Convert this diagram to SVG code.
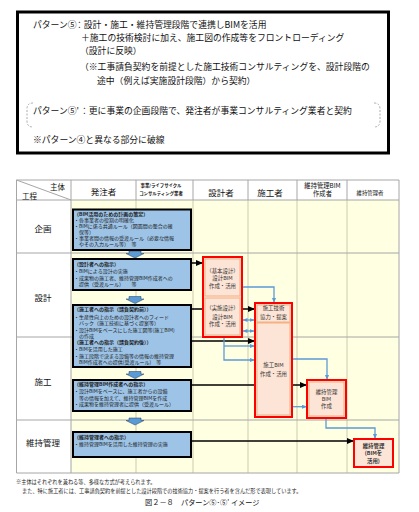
<svg xmlns="http://www.w3.org/2000/svg" width="419" height="512" viewBox="0 0 419 512">
<style>
text{font-family:"Noto Sans CJK JP","Noto Sans CJK SC",sans-serif;fill:#111}
.t9{font-size:8.8px}
.hd{font-size:8.5px;text-anchor:middle}
.bx{fill:#9DC3E6;stroke:#000;stroke-width:2}
.bt{font-size:5px;fill:#1b1b1b}
.bh{font-weight:bold}
.rd{fill:#FCE4D6;stroke:#FF0000;stroke-width:2}
.rin{fill:none;stroke:#F4B183;stroke-width:1}
.rt{font-size:5.4px;text-anchor:middle;fill:#333}
.blk{stroke:#000;stroke-width:1.5;fill:none;marker-end:url(#ab)}
.blu{stroke:#5B9BD5;stroke-width:1.3;fill:none;marker-end:url(#au)}
.dbl{stroke:#5B9BD5;stroke-width:1.3;fill:none;marker-end:url(#au);marker-start:url(#au)}
.chev{fill:#5B9BD5;stroke:#1F3864;stroke-width:0.5}
.grid{stroke:#A6A6A6;stroke-width:1}
.vg{stroke:#CFCBB0;stroke-width:1}
.nt{font-size:5.2px;fill:#222}
</style>
<defs>
<marker id="ab" markerUnits="userSpaceOnUse" markerWidth="7" markerHeight="6" refX="7" refY="3" orient="auto"><path d="M0,0 L7,3 L0,6 z" fill="#000"/></marker>
<marker id="au" markerUnits="userSpaceOnUse" markerWidth="5" markerHeight="4" refX="5" refY="2" orient="auto-start-reverse"><path d="M0,0 L5,2 L0,4 z" fill="#5B9BD5"/></marker>
</defs>
<rect width="419" height="512" fill="#fff"/>

<g id="summary">
<rect x="17.5" y="12" width="371" height="141" fill="#fff" stroke="#000" stroke-width="3"/>
<text class="t9" x="33" y="28.2">パターン⑤</text>
<text class="t9" x="75" y="28.2">：設計・施工・維持管理段階で連携しBIMを活用</text>
<text class="t9" x="81" y="41">＋施工の技術検討に加え、施工図の作成等をフロントローディング</text>
<text class="t9" x="80" y="54.2">（設計に反映）</text>
<text class="t9" x="80" y="69.5">（※工事請負契約を前提とした施工技術コンサルティングを、設計段階の</text>
<text class="t9" x="97" y="84">途中（例えば実施設計段階）から契約）</text>
<path d="M33,103 Q27,103 27,109 V121 Q27,127 33,127" fill="none" stroke="#999" stroke-width="0.8" stroke-dasharray="2,1.5"/>
<path d="M374,103 Q380,103 380,109 V121 Q380,127 374,127" fill="none" stroke="#999" stroke-width="0.8" stroke-dasharray="2,1.5"/>
<text class="t9" x="33" y="114.2">パターン⑤'</text>
<text class="t9" x="80" y="114.2">：更に事業の企画段階で、発注者が事業コンサルティング業者と契約</text>
<text class="t9" x="33" y="143.2">※パターン④と異なる部分に破線</text>
</g>

<g id="table">
<rect x="71" y="200" width="328" height="273" fill="#FFFFE1"/>
<g class="vg">
<line x1="136" y1="200" x2="136" y2="473"/>
<line x1="193" y1="200" x2="193" y2="473"/>
<line x1="248" y1="200" x2="248" y2="473"/>
<line x1="297" y1="200" x2="297" y2="473"/>
<line x1="347" y1="200" x2="347" y2="473"/>
</g>
<g class="grid">
<line x1="136" y1="180" x2="136" y2="200"/>
<line x1="193" y1="180" x2="193" y2="200"/>
<line x1="248" y1="180" x2="248" y2="200"/>
<line x1="297" y1="180" x2="297" y2="200"/>
<line x1="347" y1="180" x2="347" y2="200"/>
<line x1="16.5" y1="180" x2="399" y2="180"/>
<line x1="16.5" y1="200" x2="399" y2="200"/>
<line x1="16.5" y1="253" x2="399" y2="253"/>
<line x1="16.5" y1="337" x2="399" y2="337"/>
<line x1="16.5" y1="420" x2="399" y2="420"/>
<line x1="16.5" y1="473" x2="399" y2="473"/>
<line x1="16.5" y1="180" x2="16.5" y2="473"/>
<line x1="71" y1="180" x2="71" y2="473"/>
<line x1="399" y1="180" x2="399" y2="473"/>
<line x1="16.5" y1="180" x2="71" y2="200"/>
</g>
<text x="50" y="189.6" font-size="7.5">主体</text>
<text x="22" y="198.6" font-size="7.5">工程</text>
<text class="hd" x="103.5" y="194.5">発注者</text>
<text x="161" y="186.5" font-size="4.4" text-anchor="middle" font-weight="bold">事業/ライフサイクル</text>
<text x="161" y="194.5" font-size="4.4" text-anchor="middle" font-weight="bold">コンサルティング業者</text>
<text class="hd" x="221" y="195.5">設計者</text>
<text class="hd" x="270" y="195.5">施工者</text>
<text x="322.5" y="188.3" font-size="6.3" text-anchor="middle">維持管理BIM</text>
<text x="322.5" y="196" font-size="6.3" text-anchor="middle">作成者</text>
<text x="370" y="195" font-size="5.4" text-anchor="middle">維持管理者</text>
<text class="hd" x="43" y="232">企画</text>
<text class="hd" x="43" y="301">設計</text>
<text class="hd" x="43" y="385">施工</text>
<text class="hd" x="43" y="446">維持管理</text>
</g>

<g id="connectors">
<path class="blk" d="M191,263 H203"/>
<path class="blk" d="M191,309 H255"/>
<path class="blk" d="M191,341 H255"/>
<path class="blk" d="M191,385 H307"/>
<path class="blk" d="M191,441 H354"/>
<path class="blu" d="M242,287 H274 V303"/>
<path class="dbl" d="M242.5,320 H254.5"/>
<path class="dbl" d="M242.5,331 H254.5"/>
<path class="blu" d="M224,337 V360 H255"/>
<path class="blu" d="M224,346 H255"/>
<path class="blu" d="M292,359 H327 V380"/>
<path class="blu" d="M292,406.7 H307"/>
<path class="blu" d="M326,418 V428 H375 V439"/>
<path class="chev" d="M129,251 h12 v2.5 h3 l-9,4.5 l-9,-4.5 h3 z"/>
<path class="chev" d="M129,296.5 h12 v2.5 h3 l-9,4.5 l-9,-4.5 h3 z"/>
<path class="chev" d="M129,371.5 h12 v2.5 h3 l-9,4.5 l-9,-4.5 h3 z"/>
<path class="chev" d="M129,418 h12 v2.5 h3 l-9,4.5 l-9,-4.5 h3 z"/>
</g>

<g id="owner-plan">
<rect class="bx" x="73" y="209.5" width="118" height="40.5"/>
<text class="bt bh" x="74" y="215.5">（BIM活用のための計画の策定）</text>
<text class="bt" x="74" y="221.6">・各事業者の役割の明確化</text>
<text class="bt" x="74" y="227.7">・BIMに係る共通ルール（図面間の整合の確</text>
<text class="bt" x="79" y="233.8">保等）</text>
<text class="bt" x="74" y="239.9">・事業者間の情報の受渡ルール（必要な情報</text>
<text class="bt" x="79" y="246">やその入力ルール等）　等</text>
</g>
<g id="owner-design">
<rect class="bx" x="73" y="259" width="118" height="31"/>
<text class="bt bh" x="74" y="265.8">（設計者への指示）</text>
<text class="bt" x="74" y="272.5">・BIMによる設計の実施</text>
<text class="bt" x="74" y="279.8">・成果物の施工者、維持管理BIM作成者への</text>
<text class="bt" x="79" y="285.8">提供（受渡ルール）　　等</text>
</g>
<g id="owner-construction">
<rect class="bx" x="73" y="305" width="118" height="62"/>
<text class="bt bh" x="74" y="310.8">（施工者への指示（請負契約前））</text>
<text class="bt" x="74" y="318.5">・生産性向上のための設計者へのフィード</text>
<text class="bt" x="79" y="324.8">バック（施工技術に基づく提案等）</text>
<text class="bt" x="74" y="331.8">・設計BIMをベースにした施工図等(施工BIM)</text>
<text class="bt" x="79" y="337.8">の作成</text>
<text class="bt bh" x="74" y="344">（施工者への指示（請負契約後））</text>
<text class="bt" x="74" y="350.8">・BIMを活用した施工</text>
<text class="bt" x="74" y="357.5">・施工段階で決まる設備等の情報の維持管理</text>
<text class="bt" x="79" y="363.8">BIM作成者への提供(受渡ルール)　等</text>
</g>
<g id="owner-fmbim">
<rect class="bx" x="73" y="380" width="118" height="31"/>
<text class="bt bh" x="74" y="385.8">（維持管理BIM作成者への指示）</text>
<text class="bt" x="74" y="393.3">・設計BIMをベースに、施工者からの設備</text>
<text class="bt" x="79" y="399.6">等の情報を加えて、維持管理BIMを作成</text>
<text class="bt" x="74" y="405.9">・成果物を維持管理者に提供（受渡ルール）</text>
</g>
<g id="owner-fm">
<rect class="bx" x="73" y="432" width="118" height="25"/>
<text class="bt bh" x="74" y="439.2">（維持管理者への指示）</text>
<text class="bt" x="74" y="445.8">・維持管理BIMを活用した維持管理の実施</text>
</g>

<g id="design-bim">
<rect class="rd" x="203" y="257" width="39" height="80"/>
<rect class="rin" x="205" y="259" width="35" height="37"/>
<rect class="rin" x="205" y="298" width="35" height="37"/>
<text class="rt" x="222.5" y="272.6">（基本設計）</text>
<text class="rt" x="222.5" y="279.9">設計BIM</text>
<text class="rt" x="222.5" y="287.6">作成・活用</text>
<text class="rt" x="222.5" y="309.6">（実施設計）</text>
<text class="rt" x="222.5" y="318.6">設計BIM</text>
<text class="rt" x="222.5" y="325.9">作成・活用</text>
</g>
<g id="construction-bim">
<rect class="rd" x="255" y="303" width="37" height="114"/>
<rect class="rin" x="257" y="305" width="33" height="110"/>
<line x1="257" y1="322.5" x2="290" y2="322.5" stroke="#F4B183" stroke-width="2"/>
<text class="rt" x="273.5" y="310">施工技術</text>
<text class="rt" x="273.5" y="318.6">協力・提案</text>
<text class="rt" x="273.5" y="366.9">施工BIM</text>
<text class="rt" x="273.5" y="375.9">作成・活用</text>
</g>
<g id="fm-bim">
<rect class="rd" x="307" y="380" width="39" height="38"/>
<rect class="rin" x="309" y="382" width="35" height="34"/>
<text class="rt" x="326.5" y="393.6">維持管理</text>
<text class="rt" x="326.5" y="400.9">BIM</text>
<text class="rt" x="326.5" y="407.9">作成</text>
</g>
<g id="fm">
<rect class="rd" x="354" y="439" width="39" height="28"/>
<text class="rt" x="373.5" y="447.9" font-weight="bold">維持管理</text>
<text class="rt" x="373.5" y="454.9" font-weight="bold">(BIMを</text>
<text class="rt" x="373.5" y="462.6" font-weight="bold">活用)</text>
</g>

<g id="notes">
<text class="nt" x="16" y="483.8">※主体はそれぞれを兼ねる等、多様な方式が考えられます。</text>
<text class="nt" x="22" y="492.5">また、特に施工者には、工事請負契約を前提とした設計段階での技術協力・提案を行う者を含んだ形で表現しています。</text>
<text x="145" y="504.6" font-size="7.2">図２－８　パターン⑤･⑤' イメージ</text>
</g>
</svg>
